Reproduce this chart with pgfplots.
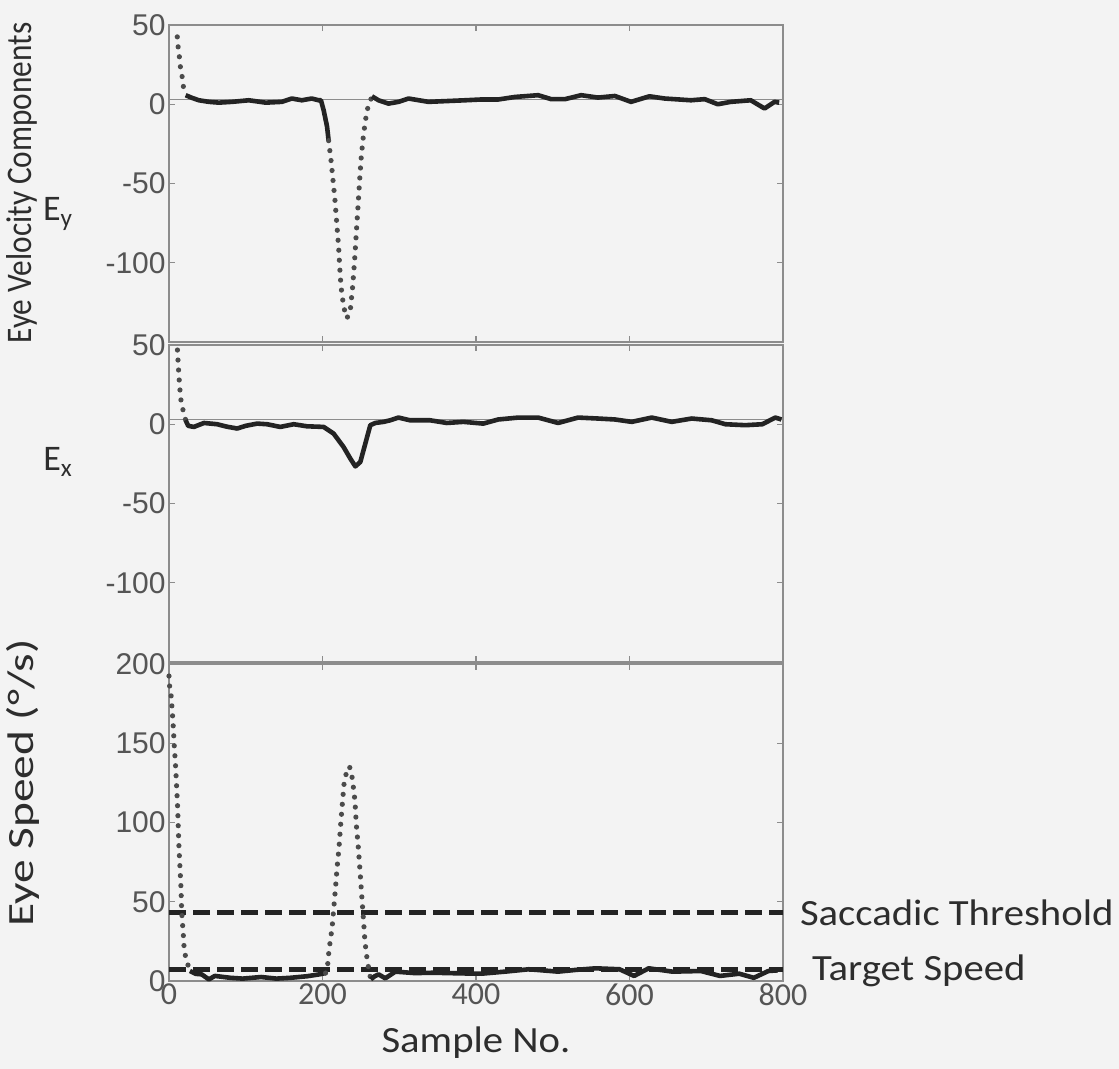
\documentclass[border=0pt]{standalone}
\usepackage{pgfplots}
\pgfplotsset{compat=1.18}
\usepackage{graphicx}
\usepackage{fontspec}
\setmainfont{Carlito}
\newfontfamily\arialfont{Liberation Sans}

\definecolor{bg}{RGB}{243,243,243}
\definecolor{framec}{RGB}{140,140,140}
\definecolor{trace}{RGB}{35,35,35}
\definecolor{dotc}{RGB}{75,75,75}
\definecolor{ticktext}{RGB}{85,85,85}
\definecolor{labeltext}{RGB}{45,45,45}

\newcommand\wide[1]{\scalebox{1.1}[1]{#1}}

\pgfplotsset{
  panel/.style={
    scale only axis, width=307pt, height=158.5pt,
    xmin=0, xmax=800,
    axis line style={framec, line width=0.7pt},
    tick style={framec, line width=0.7pt},
    major tick length=3pt,
    xtick={0,200,400,600,800},
    /pgf/number format/assume math mode=true,
    yticklabel style={font=\arialfont\fontsize{15}{15}\selectfont, text=ticktext, inner sep=1.5pt},
    xticklabel style={font=\fontsize{16}{16}\selectfont, text=ticktext, inner sep=1pt},
  },
  solidtrace/.style={trace, line width=2.3pt, line join=round},
  dottrace/.style={dotc, line width=2.6pt, line cap=round, dash pattern=on 0pt off 5pt},
  refline/.style={framec, line width=0.7pt},
  thresh/.style={trace, line width=2.4pt, dash pattern=on 8.5pt off 3.5pt},
}

\begin{document}
\begin{tikzpicture}
\path[use as bounding box, fill=bg] (0,0) rectangle (559.5pt,534.5pt);

% E_y
\begin{axis}[panel, at={(84.5pt,363.5pt)}, anchor=south west,
  ymin=-150, ymax=50, ytick={-100,-50,0,50}, xticklabels={}]
\addplot[refline] coordinates {(0,3) (800,3)};
\addplot[dottrace] coordinates {
 (10.8,42.5) (11.7,37) (13,32) (14.3,26.7) (15.2,21.5) (17.3,17) (19,10) (21.7,5.7)};
\addplot[solidtrace] coordinates {
 (21.7,5.7) (30,4) (39,2.5) (52,1.5) (65,1) (82,1.5) (104,2.5) (126,1) (147,1.5)
 (160,3.6) (173,2.5) (186,3.6) (195,2.5) (198,2.5) (201.6,-4) (205.9,-14) (208,-23)};
\addplot[dottrace] coordinates {
 (208,-23) (211.5,-37) (213.7,-48) (215.9,-58.5) (217.6,-69) (219.3,-79.5) (221,-90)
 (222.4,-102.6) (224.1,-115) (227.6,-128) (231.9,-135) (236.2,-130) (239.3,-115)
 (241.9,-98) (244,-81.5) (246.2,-65) (248.4,-48) (250.5,-33) (253.6,-18.5) (257.9,-4) (264.4,5)};
\addplot[solidtrace] coordinates {
 (264.4,5) (273,2.5) (286,0.4) (299,1.5) (312,3.6) (338,1.5) (362,2) (386,2.5) (407,3)
 (429,3) (451,4.6) (481,5.7) (498,3.2) (516,3.2) (537,5.7) (559,4.2) (581,5.2) (602,1.5)
 (626,5) (646,3.6) (680,2.5) (698,3.2) (715,0) (732,1.5) (758,2.5) (776,-2.7) (789,1.5) (795,1)};
\end{axis}

% E_x
\begin{axis}[panel, at={(84.5pt,203.5pt)}, anchor=south west,
  ymin=-150, ymax=50, ytick={-100,-50,0,50}, xticklabels={}]
\addplot[refline] coordinates {(0,3) (800,3)};
\addplot[dottrace] coordinates {
 (11,46.8) (12,38) (13,30) (15,17) (17,11) (19.5,7) (21.7,2.5)};
\addplot[solidtrace] coordinates {
 (21.7,2.5) (25,-1) (32.5,-1.7) (45.5,0.8) (62.8,0) (75,-1.5) (88.8,-2.7) (100,-1)
 (114.8,0.4) (127.8,0) (145,-1.7) (162.5,0) (179.8,-1.3) (201.5,-1.7) (214.5,-5.9)
 (227.5,-14.4) (236.3,-21.7) (242.8,-26.6) (249.3,-23.8) (255.8,-12.2) (262.3,-0.6)
 (268.8,0.8) (279.6,1.5) (288.3,2.5) (299,4.2) (314,2.5) (340,2.5) (362,0.8) (383.5,1.5)
 (409.5,0.4) (429,3) (455,4.2) (481,4.2) (507,0.8) (533,4.2) (559,3.6) (581,3) (603,1.5)
 (629,4.2) (655,1.5) (681,3.6) (707,2.5) (725,0) (751,-0.6) (773,0) (790,4.2) (798,3)};
\end{axis}

% speed
\begin{axis}[panel, at={(84.5pt,44pt)}, anchor=south west, clip=false,
  ymin=0, ymax=200, ytick={0,50,100,150,200}]
\addplot[thresh] coordinates {(0,43) (800,43)};
\addplot[thresh] coordinates {(0,7.5) (800,7.5)};
\addplot[dottrace] coordinates {
 (0,192.4) (0.5,187) (2.6,181) (4.3,170) (5.6,160) (6.9,148) (8.7,134.6) (10,122)
 (11.3,109) (12.1,96.7) (13,84) (14.3,71.5) (15.6,59) (16.5,44) (18.6,29.5) (19.9,19)
 (23,12.6) (27.3,6.3)};
\addplot[solidtrace] coordinates {
 (27.3,6.3) (35,4.5) (42.5,4.2) (52,1) (59.7,3.2) (80,2) (96,1.5) (120,2.5) (140,1.5)
 (158,2) (180,3) (196,4.2) (204,5)};
\addplot[dottrace] coordinates {
 (204,5) (206,6.3) (208,17) (210,25) (212.5,33.6) (214.7,46) (217,59) (219,71.5)
 (221.5,84) (223.7,99) (225.8,111.5) (228,124) (232.4,134.6) (235.4,135) (238.8,128)
 (242.3,113.6) (244,99) (246.7,84) (248.9,69.4) (251,54.7) (253.2,40) (255.3,25)
 (258.4,12.6) (262.8,1)};
\addplot[solidtrace] coordinates {
 (262.8,1) (268,3) (273,4.2) (281.8,1.7) (295,5.9) (320,5) (345,5.2) (380,4.8) (407,4.6)
 (440,6) (469,7.4) (507,5.9) (530,7) (556,8) (587,7.4) (606,3.2) (625,8) (656,5.9)
 (693,6.3) (718,3.2) (743,4.6) (762,2) (781,6.3) (793,6.7)};
\node[anchor=west, text=labeltext, font=\fontsize{18.5}{18.5}\selectfont, xshift=5pt]
  at (axis cs:800,43) {\wide{Saccadic Threshold}};
\node[anchor=west, text=labeltext, font=\fontsize{18.5}{18.5}\selectfont, xshift=11pt, yshift=-1pt]
  at (axis cs:800,7.5) {\wide{Target Speed}};
\end{axis}

\node[rotate=90, text=labeltext, font=\fontsize{18}{18}\selectfont] at (11pt,443pt)
  {\scalebox{0.87}[1]{Eye Velocity Components}};
\node[rotate=90, text=labeltext, font=\fontsize{18.5}{18.5}\selectfont] at (11.5pt,143pt)
  {\scalebox{1.28}[1]{Eye Speed (°/s)}};
\node[text=labeltext, font=\fontsize{18}{18}\selectfont] at (29pt,427.5pt) {E\textsubscript{y}};
\node[text=labeltext, font=\fontsize{18}{18}\selectfont] at (29pt,303.5pt) {E\textsubscript{x}};
\node[text=labeltext, font=\fontsize{18.5}{18.5}\selectfont] at (238pt,13pt) {\wide{Sample No.}};
\end{tikzpicture}
\end{document}
